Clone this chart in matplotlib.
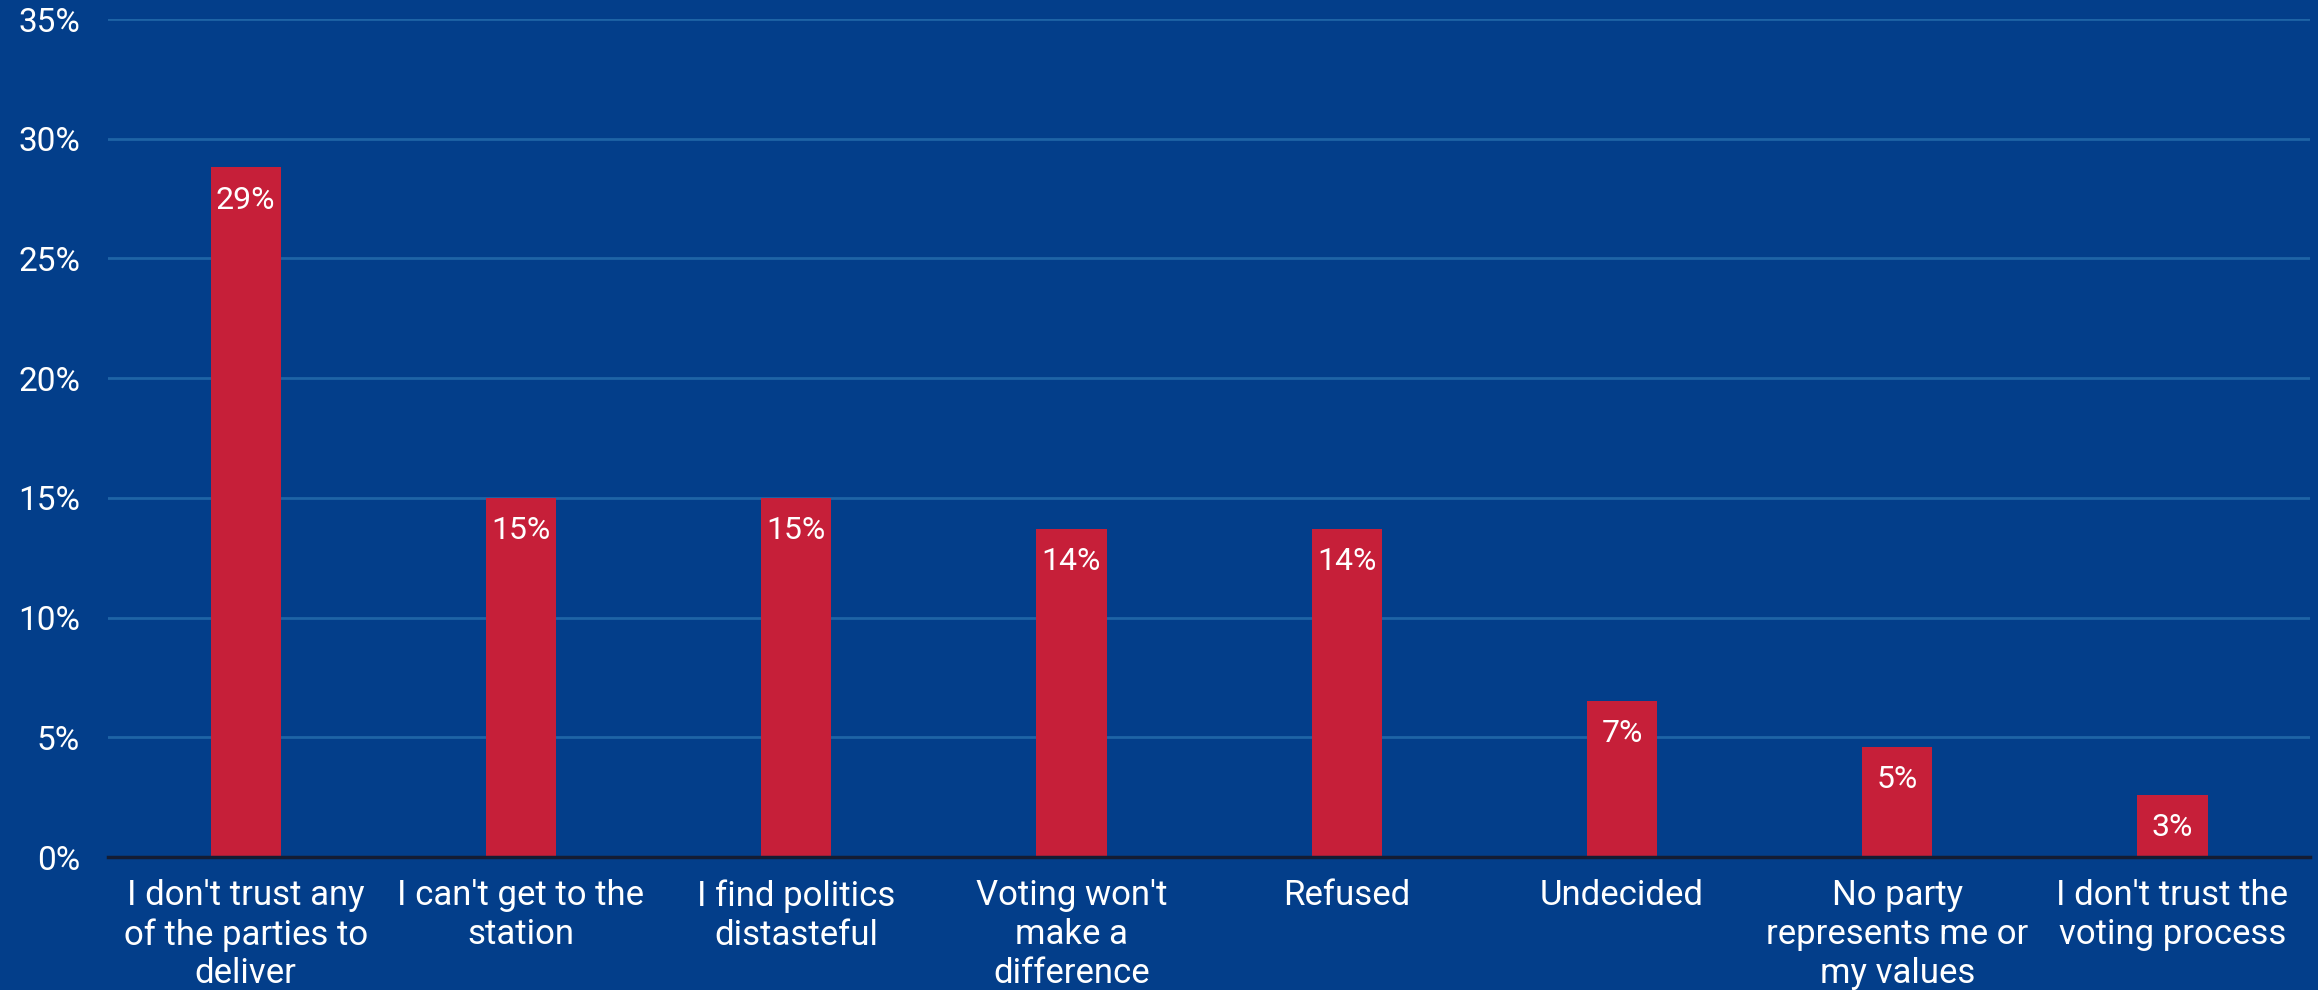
import matplotlib.pyplot as plt
import numpy as np

categories = [
    "I don't trust any\nof the parties to\ndeliver",
    "I can't get to the\nstation",
    "I find politics\ndistasteful",
    "Voting won't\nmake a\ndifference",
    "Refused",
    "Undecided",
    "No party\nrepresents me or\nmy values",
    "I don't trust the\nvoting process",
]
values = [0.288, 0.150, 0.150, 0.137, 0.137, 0.065, 0.046, 0.026]
labels = ["29%", "15%", "15%", "14%", "14%", "7%", "5%", "3%"]
yticks = [0, 0.05, 0.10, 0.15, 0.20, 0.25, 0.30, 0.35]

bg = "#033e8a"
bar_color = "#c61f39"
grid_color = "#1e64a6"

plt.rcParams['font.family'] = ['Roboto', 'DejaVu Sans']

fig = plt.figure(figsize=(23.18, 9.9), dpi=100, facecolor=bg)
ax = fig.add_axes([0.0466, 0.1343, 0.95, 0.8465], facecolor=bg)

x = np.arange(len(categories))
bars = ax.bar(x, values, width=0.255, color=bar_color, zorder=3)

for b, lab in zip(bars, labels):
    ax.annotate(lab, (b.get_x() + b.get_width() / 2, b.get_height()),
                xytext=(0, -13), textcoords='offset points',
                ha='center', va='top', color='white', fontsize=23, zorder=4)

ax.set_xlim(-0.5, len(categories) - 0.5)
ax.set_ylim(0, 0.35)
ax.set_yticks(yticks)
ax.set_yticklabels([f"{int(round(t * 100))}%" for t in yticks])
ax.set_xticks(x)
ax.set_xticklabels(categories, linespacing=1.22)

ax.tick_params(axis='y', length=0, pad=20, labelsize=24, labelcolor='white')
ax.tick_params(axis='x', length=0, pad=16, labelsize=25, labelcolor='white')

ax.grid(axis='y', color=grid_color, linewidth=2, zorder=0)
for s in ['top', 'right', 'left']:
    ax.spines[s].set_visible(False)
ax.spines['bottom'].set_color('#141c33')
ax.spines['bottom'].set_linewidth(2.5)
ax.spines['bottom'].set_zorder(5)

fig.savefig('out.png', dpi=100, facecolor=bg)
